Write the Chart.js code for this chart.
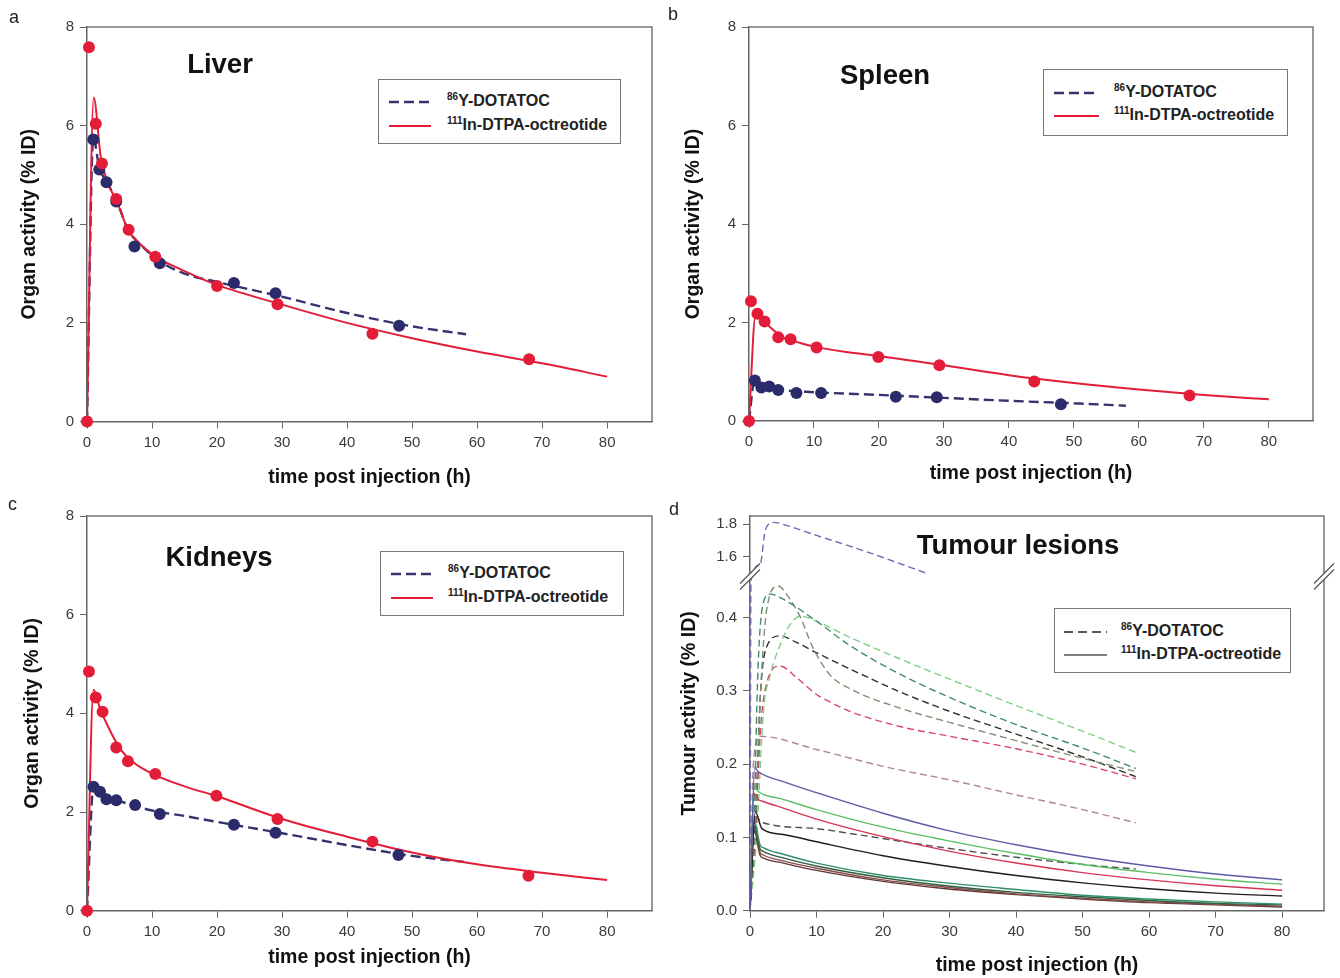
<!DOCTYPE html>
<html><head><meta charset="utf-8">
<script src="https://cdn.jsdelivr.net/npm/chart.js@4.4.0/dist/chart.umd.min.js"></script>
<style>
body{margin:0;background:#fff;width:1340px;height:978px;position:relative;overflow:hidden;font-family:"Liberation Sans",Arial,Helvetica,sans-serif;}
canvas{position:absolute;}
.lbl{position:absolute;font-size:18px;color:#222;line-height:20px;}
.ttl{position:absolute;font-weight:bold;font-size:27.5px;color:#111;transform:translate(-50%,-50%);white-space:nowrap;}
.leg{position:absolute;border:1px solid #777;background:#fff;box-sizing:border-box;}
.leg svg{position:absolute;overflow:visible;}
.lt{position:absolute;font-weight:bold;font-size:16px;color:#222;line-height:18px;white-space:nowrap;}
.lt sup{font-size:10px;vertical-align:6px;line-height:0;}
</style></head>
<body>
<canvas id="ca" width="670" height="490" style="left:0;top:0"></canvas>
<canvas id="cb" width="670" height="490" style="left:670px;top:0"></canvas>
<canvas id="cc" width="670" height="488" style="left:0;top:490px"></canvas>
<canvas id="cd" width="670" height="488" style="left:670px;top:490px"></canvas>

<div class="lbl" style="left:9px;top:7px">a</div>
<div class="lbl" style="left:668px;top:4px">b</div>
<div class="lbl" style="left:8px;top:494px">c</div>
<div class="lbl" style="left:669px;top:499px">d</div>

<div class="ttl" style="left:220px;top:64px">Liver</div>
<div class="ttl" style="left:885px;top:75px">Spleen</div>
<div class="ttl" style="left:219px;top:557px">Kidneys</div>
<div class="ttl" style="left:1018px;top:545px">Tumour lesions</div>

<div class="leg" style="left:378px;top:79px;width:243px;height:65px">
  <svg style="left:10px;top:22px" width="42" height="1"><line x1="0" y1="0" x2="42" y2="0" stroke="#34346e" stroke-width="2.4" stroke-dasharray="10,5"/></svg>
  <div class="lt" style="left:68px;top:12px"><sup>86</sup>Y-DOTATOC</div>
  <svg style="left:10px;top:46px" width="42" height="1"><line x1="0" y1="0" x2="42" y2="0" stroke="#e31d38" stroke-width="2"/></svg>
  <div class="lt" style="left:68px;top:36px"><sup>111</sup>In-DTPA-octreotide</div>
</div>
<div class="leg" style="left:1043px;top:69px;width:245px;height:67px">
  <svg style="left:10px;top:23px" width="45" height="1"><line x1="0" y1="0" x2="45" y2="0" stroke="#34346e" stroke-width="2.4" stroke-dasharray="10,5"/></svg>
  <div class="lt" style="left:70px;top:13px"><sup>86</sup>Y-DOTATOC</div>
  <svg style="left:10px;top:46px" width="45" height="1"><line x1="0" y1="0" x2="45" y2="0" stroke="#e31d38" stroke-width="2"/></svg>
  <div class="lt" style="left:70px;top:36px"><sup>111</sup>In-DTPA-octreotide</div>
</div>
<div class="leg" style="left:380px;top:551px;width:244px;height:65px">
  <svg style="left:10px;top:22px" width="42" height="1"><line x1="0" y1="0" x2="42" y2="0" stroke="#34346e" stroke-width="2.4" stroke-dasharray="10,5"/></svg>
  <div class="lt" style="left:67px;top:12px"><sup>86</sup>Y-DOTATOC</div>
  <svg style="left:10px;top:46px" width="42" height="1"><line x1="0" y1="0" x2="42" y2="0" stroke="#e31d38" stroke-width="2"/></svg>
  <div class="lt" style="left:67px;top:36px"><sup>111</sup>In-DTPA-octreotide</div>
</div>
<div class="leg" style="left:1054px;top:608px;width:237px;height:65px">
  <svg style="left:9px;top:23px" width="43" height="1"><line x1="0" y1="0" x2="43" y2="0" stroke="#222" stroke-width="1.5" stroke-dasharray="9,5"/></svg>
  <div class="lt" style="left:66px;top:13px"><sup>86</sup>Y-DOTATOC</div>
  <svg style="left:9px;top:46px" width="43" height="1"><line x1="0" y1="0" x2="43" y2="0" stroke="#555" stroke-width="1.5"/></svg>
  <div class="lt" style="left:66px;top:36px"><sup>111</sup>In-DTPA-octreotide</div>
</div>

<script>
// ---------- data ----------
const xTicks = [0,10,20,30,40,50,60,70,80];
const organYTicks = [0,2,4,6,8];
const tumourLowTicks = [0,0.1,0.2,0.3,0.4];
const tumourHighTicks = [1.6,1.8];

// Liver
const liverInDotT = [0,0.3,1.35,2.3,4.5,6.4,10.5,20,29.3,43.9,68];
const liverInDotV = [0,7.59,6.04,5.23,4.51,3.89,3.34,2.75,2.38,1.78,1.26];
const liverYDotT = [0.97,1.9,3.0,4.5,7.3,11.2,22.6,29.0,48.0];
const liverYDotV = [5.72,5.11,4.85,4.46,3.55,3.21,2.81,2.6,1.94];
const liverInFitT = [0,1.03,2.1,3.1,4.7,6.3,8,10.5,15,20,30,40,50,60,70,80];
const liverInFitV = [0,6.57,5.38,4.87,4.43,3.89,3.62,3.35,3.05,2.77,2.37,2.0,1.69,1.42,1.18,0.91];
const liverYFitT = [0,0.97,1.9,3.0,4.7,6.3,8,11.2,15,20,25,30,40,50,58.3];
const liverYFitV = [0,5.75,5.14,4.87,4.43,3.89,3.62,3.25,3.0,2.83,2.68,2.53,2.2,1.93,1.77];

// Spleen
const spleenInDotT = [0,0.3,1.3,2.4,4.5,6.4,10.4,19.9,29.3,43.9,67.8];
const spleenInDotV = [0,2.43,2.18,2.02,1.70,1.66,1.49,1.30,1.13,0.80,0.52];
const spleenYDotT = [0.9,1.9,3.1,4.5,7.3,11.1,22.6,28.9,48.0];
const spleenYDotV = [0.82,0.68,0.70,0.63,0.57,0.57,0.49,0.48,0.34];
const spleenInFitT = [0,1.0,2.4,5,8,10.4,15,20,30,40,50,60,70,80];
const spleenInFitV = [0,2.13,2.0,1.72,1.58,1.5,1.4,1.32,1.13,0.93,0.77,0.64,0.53,0.44];
const spleenYFitT = [0,0.8,2,3,5,10,20,30,40,50,58];
const spleenYFitV = [0,0.78,0.7,0.68,0.63,0.585,0.53,0.47,0.41,0.36,0.31];

// Kidneys
const kidInDotT = [0,0.3,1.35,2.4,4.5,6.3,10.5,19.9,29.3,43.9,67.9];
const kidInDotV = [0,4.85,4.32,4.03,3.31,3.03,2.77,2.33,1.86,1.40,0.71];
const kidYDotT = [1.0,2.0,3.0,4.5,7.4,11.2,22.6,29.0,47.9];
const kidYDotV = [2.51,2.41,2.26,2.24,2.14,1.96,1.74,1.58,1.13];
const kidInFitT = [0,1.0,2,3,5,7,10,15,20,30,40,50,60,70,80];
const kidInFitV = [0,4.48,4.1,3.8,3.3,3.02,2.78,2.52,2.32,1.86,1.5,1.18,0.94,0.77,0.62];
const kidYFitT = [0,1.0,2,3,5,10,15,20,30,40,50,58];
const kidYFitV = [0,2.5,2.4,2.3,2.22,2.03,1.92,1.8,1.57,1.33,1.11,0.99];

// Tumour lesions - 86Y-DOTATOC (dashed)
const tyBlueT  = [0,0.15,1.5,2.3,3.5,6,10,15,20,26.8];
const tyBlueV  = [0,0.45,1.55,1.76,1.81,1.785,1.73,1.665,1.595,1.495];
const tyTealT  = [0,0.6,1.2,2,3,5,10,15,22.7,30,40,50,58];
const tyTealV  = [0,0.12,0.33,0.42,0.432,0.425,0.395,0.362,0.322,0.291,0.254,0.222,0.194];
const tyOliveT = [0,0.8,1.6,2.5,4.2,6,7.6,9.4,12,15,22.7,30,40,50,58];
const tyOliveV = [0,0.12,0.3,0.41,0.443,0.425,0.40,0.36,0.322,0.303,0.276,0.257,0.232,0.208,0.19];
const tyLimeT  = [0,1,2,3,4.2,6,7.6,10,15,22.7,30,40,50,58];
const tyLimeV  = [0,0.1,0.27,0.32,0.355,0.39,0.402,0.395,0.373,0.343,0.316,0.28,0.245,0.216];
const tyBlackT = [0,0.8,1.6,2.5,4.5,7,10,15,22.7,30,40,50,58];
const tyBlackV = [0,0.12,0.3,0.36,0.375,0.366,0.352,0.33,0.298,0.272,0.241,0.21,0.183];
const tyRedT   = [0,0.8,1.6,2.5,4.5,7,10,12,15,22.7,30,40,50,58];
const tyRedV   = [0,0.1,0.25,0.31,0.334,0.318,0.295,0.285,0.272,0.251,0.238,0.221,0.2,0.18];
const tyMauveT = [0,0.5,1.5,10,20,30.8,40,50,58];
const tyMauveV = [0,0.2,0.238,0.22,0.197,0.177,0.158,0.138,0.12];
const tyGreyT  = [0,0.5,1.2,2,10,16,28.4,40,52.5,58];
const tyGreyV  = [0,0.1,0.125,0.12,0.112,0.104,0.087,0.073,0.061,0.057];

// Tumour lesions - 111In-DTPA-octreotide (solid)
const tiBlueT  = [0,0.7,1.2,5,10,20,29.5,40,50,60,70,80];
const tiBlueV  = [0,0.195,0.19,0.176,0.161,0.133,0.11,0.09,0.074,0.061,0.05,0.042];
const tiGreenT = [0,0.6,1.2,5,10,20,29.5,40,50,60,70,80];
const tiGreenV = [0,0.17,0.163,0.152,0.138,0.114,0.096,0.078,0.063,0.052,0.043,0.036];
const tiRedT   = [0,0.6,1.2,2,5,10,20,29.5,40,50,60,70,80];
const tiRedV   = [0,0.16,0.152,0.149,0.14,0.125,0.101,0.082,0.065,0.052,0.042,0.034,0.028];
const tiBlackT = [0,0.8,1.8,5,10,20,29.5,40,50,60,70,80];
const tiBlackV = [0,0.135,0.112,0.104,0.094,0.075,0.061,0.048,0.038,0.03,0.024,0.02];
const tiLowT   = [0,0.6,1.5,2,5,10,20,29.5,40,50,60,70,80];
const tiTealV  = [0,0.125,0.09,0.086,0.077,0.065,0.048,0.038,0.029,0.021,0.016,0.012,0.009];
const tiDkGreenV = [0,0.12,0.085,0.081,0.072,0.061,0.045,0.034,0.025,0.019,0.014,0.01,0.008];
const tiBrownV = [0,0.115,0.08,0.076,0.068,0.058,0.042,0.032,0.023,0.017,0.012,0.009,0.006];
const tiDkBrownV = [0,0.11,0.076,0.072,0.065,0.055,0.04,0.03,0.022,0.016,0.011,0.008,0.005];

// ---------- helpers ----------
const FONT = '"Liberation Sans", Arial, Helvetica, sans-serif';
Chart.defaults.font.family = FONT;
Chart.defaults.color = '#333';

// broken-axis mapping for panel d
const BREAK_LOW = 0.46, UPPER_BASE = 0.483, UPPER_SCALE = 0.2231, BREAK_POS = 0.456;
function brk(v){ return v <= BREAK_LOW ? v : UPPER_BASE + (v - 1.6) * UPPER_SCALE; }

function pts(t, v, f){ return t.map((x,i)=>({x:x, y: f ? f(v[i]) : v[i]})); }

const RED = '#e31d38', NAVY = '#2b2a6b', NAVYL = '#34346e';

function dots(t, v, c){
  return {data: pts(t,v), showLine:false, pointRadius:6, pointBackgroundColor:c, pointBorderColor:c, borderColor:c, pointBorderWidth:0, clip:false};
}
function fit(t, v, c, dash, w, f){
  return {data: pts(t,v,f), pointRadius:0, borderColor:c, borderWidth:w||2, borderDash:dash||[], cubicInterpolationMode:'monotone', fill:false};
}

const framePlugin = {
  id:'frame',
  afterDraw(chart, args, opts){
    const {ctx, chartArea:a} = chart;
    ctx.save();
    ctx.strokeStyle = '#777'; ctx.lineWidth = 1.5;
    ctx.beginPath(); ctx.moveTo(a.left, a.top); ctx.lineTo(a.right, a.top); ctx.lineTo(a.right, a.bottom); ctx.stroke();
    if (opts && opts.brk != null){
      const y = chart.scales.y.getPixelForValue(opts.brk);
      for (const cx of [a.left, a.right]){
        ctx.fillStyle = '#fff';
        ctx.beginPath(); ctx.moveTo(cx-10,y+7); ctx.lineTo(cx+10,y-13); ctx.lineTo(cx+10,y-7); ctx.lineTo(cx-10,y+13); ctx.closePath(); ctx.fill();
        ctx.strokeStyle = '#555'; ctx.lineWidth = 1.2;
        ctx.beginPath(); ctx.moveTo(cx-10,y+7); ctx.lineTo(cx+10,y-13); ctx.moveTo(cx-10,y+13); ctx.lineTo(cx+10,y-7); ctx.stroke();
      }
    }
    ctx.restore();
  }
};

function makeChart(id, geo, datasets, yCfg, yTitle, brkPos){
  return new Chart(document.getElementById(id), {
    type:'line',
    data:{datasets:datasets},
    options:{
      responsive:false, animation:false, events:[],
      layout:{padding:{left:0, top:geo.top, right:geo.right, bottom:0}},
      plugins:{legend:{display:false}, tooltip:{enabled:false}, frame:{brk:brkPos}},
      scales:{
        x:{type:'linear', min:0, max:geo.xmax,
           afterBuildTicks:s=>{ s.ticks = xTicks.map(v=>({value:v})); },
           afterFit:s=>{ s.height = geo.xh; },
           ticks:{font:{size:15}, padding:5, maxRotation:0, autoSkip:false, color:'#3a3a3a', includeBounds:false},
           grid:{display:true, drawOnChartArea:false, drawTicks:true, tickLength:7, color:'#666'},
           border:{display:true, color:'#666', width:1.5},
           title:{display:true, text:'time post injection (h)', font:{size:19.5, weight:'bold'}, color:'#111', padding:{top:0, bottom:geo.xtp}}},
        y:Object.assign({type:'linear',
           afterFit:s=>{ s.width = geo.yw; },
           grid:{display:true, drawOnChartArea:false, drawTicks:true, tickLength:7, color:'#666'},
           border:{display:true, color:'#666', width:1.5},
           title:{display:true, text:yTitle, font:{size:19.5, weight:'bold'}, color:'#111', padding:{top:geo.ytp, bottom:0}}}, yCfg)
      }
    },
    plugins:[framePlugin]
  });
}

const organY = {min:0, max:8,
  afterBuildTicks:s=>{ s.ticks = organYTicks.map(v=>({value:v})); },
  ticks:{font:{size:15}, padding:6, autoSkip:false, color:'#3a3a3a', callback:v=>String(v)}};

const DASH = [10,5];

makeChart('ca', {top:27, right:18, xh:68.5, yw:87, xmax:86.9, xtp:0.3, ytp:18.3}, [
  dots(liverInDotT, liverInDotV, RED),
  dots(liverYDotT, liverYDotV, NAVY),
  fit(liverInFitT, liverInFitV, RED, [], 2),
  fit(liverYFitT, liverYFitV, NAVYL, DASH, 2.4)
], organY, 'Organ activity (% ID)');

makeChart('cb', {top:27, right:27, xh:69, yw:79, xmax:86.8, xtp:4.3, ytp:12.3}, [
  dots(spleenInDotT, spleenInDotV, RED),
  dots(spleenYDotT, spleenYDotV, NAVY),
  fit(spleenInFitT, spleenInFitV, RED, [], 2),
  fit(spleenYFitT, spleenYFitV, NAVYL, DASH, 2.4)
], organY, 'Organ activity (% ID)');

makeChart('cc', {top:26, right:18, xh:67.3, yw:87, xmax:86.9, xtp:8.3, ytp:21}, [
  dots(kidInDotT, kidInDotV, RED),
  dots(kidYDotT, kidYDotV, NAVY),
  fit(kidInFitT, kidInFitV, RED, [], 2),
  fit(kidYFitT, kidYFitV, NAVYL, DASH, 2.4)
], organY, 'Organ activity (% ID)');

const tumourTickVals = tumourLowTicks.map(v=>brk(v)).concat(tumourHighTicks.map(v=>brk(v)));
const tumourTickLabels = tumourLowTicks.map(v=>v.toFixed(1)).concat(tumourHighTicks.map(v=>v.toFixed(1)));
const tumourY = {min:0, max:brk(1.849),
  afterBuildTicks:s=>{ s.ticks = tumourTickVals.map(v=>({value:v})); },
  ticks:{font:{size:15}, padding:6, autoSkip:false, color:'#3a3a3a', callback:(v,i)=>tumourTickLabels[i]}};

const TD = [7,4], TW = 1.4;
makeChart('cd', {top:26, right:16, xh:67.3, yw:80, xmax:86.3, xtp:0.3, ytp:8.3}, [
  fit(tiBlueT, tiBlueV, '#5b5ba8', [], TW, brk),
  fit(tiGreenT, tiGreenV, '#5cbf66', [], TW, brk),
  fit(tiRedT, tiRedV, '#d6355a', [], TW, brk),
  fit(tiBlackT, tiBlackV, '#1e1e1e', [], TW, brk),
  fit(tiLowT, tiTealV, '#2f8f6a', [], TW, brk),
  fit(tiLowT, tiDkGreenV, '#2f5f3f', [], TW, brk),
  fit(tiLowT, tiBrownV, '#8c4b4b', [], TW, brk),
  fit(tiLowT, tiDkBrownV, '#5e3838', [], TW, brk),
  fit(tyBlueT, tyBlueV, '#6b6bb0', TD, TW, brk),
  fit(tyTealT, tyTealV, '#3f8c6a', TD, TW, brk),
  fit(tyOliveT, tyOliveV, '#7f8f70', TD, TW, brk),
  fit(tyLimeT, tyLimeV, '#7fcf86', TD, TW, brk),
  fit(tyBlackT, tyBlackV, '#2e2e2e', TD, TW, brk),
  fit(tyRedT, tyRedV, '#d9476b', TD, TW, brk),
  fit(tyMauveT, tyMauveV, '#b084a4', TD, TW, brk),
  fit(tyGreyT, tyGreyV, '#505050', TD, TW, brk)
], tumourY, 'Tumour activity (% ID)', BREAK_POS);
</script>
</body></html>
